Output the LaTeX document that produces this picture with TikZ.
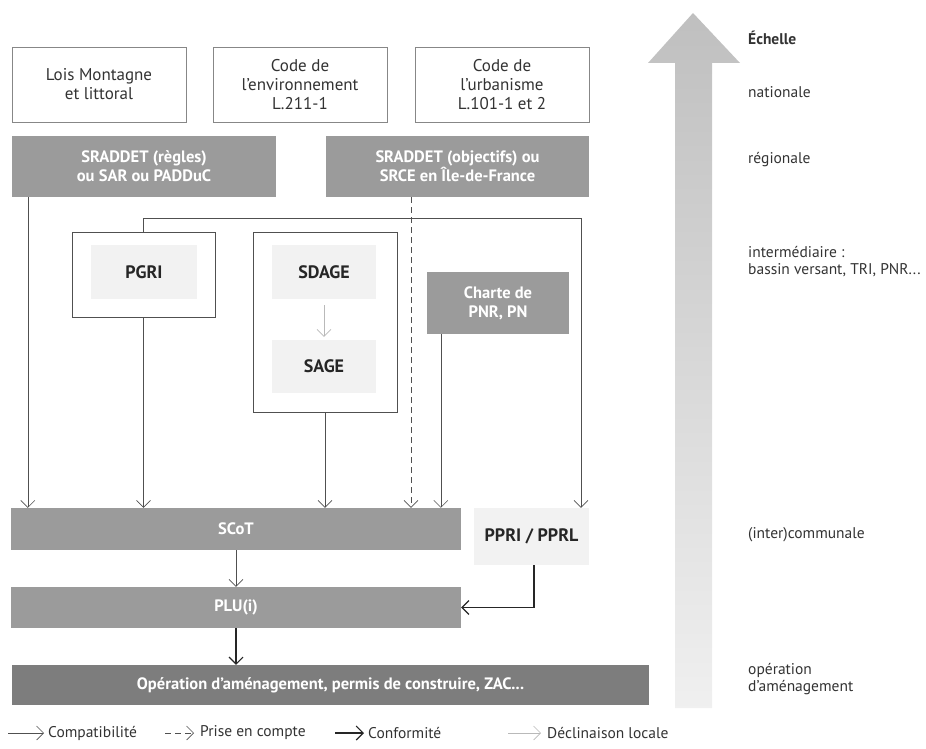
\documentclass[tikz,border=0pt]{standalone}
\usepackage{fontspec}
\setmainfont{PT Sans}
\usetikzlibrary{arrows.meta,positioning,calc}
\definecolor{trait}{RGB}{80,80,80}
\definecolor{grisboite}{RGB}{155,155,155}
\definecolor{grisop}{RGB}{125,125,125}
\definecolor{grisfond}{RGB}{242,242,242}
\definecolor{bordure}{RGB}{135,135,135}
\definecolor{decli}{RGB}{185,185,185}
\tikzset{>={Straight Barb[length=7pt,width=14pt]}}
\tikzset{
  loibox/.style={draw=bordure, fill=white, text=black!80, align=center, inner sep=0pt, font=\fontsize{17}{19}\selectfont},
  grisbox/.style={fill=grisboite, text=white, align=center, inner sep=0pt, font=\bfseries\fontsize{16.5}{19}\selectfont},
  cadre/.style={draw=trait, fill=white, inner sep=0pt},
  fondbox/.style={fill=grisfond, text=black!85, align=center, inner sep=0pt, font=\bfseries\fontsize{18}{20}\selectfont},
  echelle/.style={anchor=west, align=left, inner sep=0pt, text=black!80, font=\fontsize{15.5}{17}\selectfont},
  legende/.style={anchor=west, inner sep=0pt, text=black!80, font=\fontsize{15.5}{17}\selectfont},
  compat/.style={->, draw=trait, line width=0.6pt},
  prise/.style={->, draw=trait, line width=0.6pt, dash pattern=on 6pt off 4pt},
  conforme/.style={->, draw=black!85, line width=1.1pt},
  declin/.style={->, draw=decli, line width=0.6pt}
}

\begin{document}
\begin{tikzpicture}[x=1pt,y=-1pt]
    \useasboundingbox (0,0) rectangle (926,749);

    % echelle
    \shade[top color=gray!50, bottom color=gray!12] (675,708) -- (675,63) -- (648,63) -- (693,13) -- (740,63) -- (712,63) -- (712,708) -- cycle;
    \node[echelle, font=\bfseries\fontsize{15.5}{17}\selectfont] (ech) at (748,38) {Échelle};
    \node[echelle] (nat) at (748,92) {nationale};
    \node[echelle] (reg) at (748,160) {régionale};
    \node[echelle] (inter) at (748,262) {intermédiaire :\\bassin versant, TRI, PNR...};
    \node[echelle] (comm) at (748,535) {(inter)communale};
    \node[echelle] (amen) at (748,679) {opération\\d’aménagement};

    % textes nationaux
    \node[loibox, minimum width=174, minimum height=75] (lois) at (99,84.5) {Lois Montagne\\et littoral};
    \node[loibox, minimum width=174, minimum height=75] (env) at (300,84.5) {Code de\\l’environnement\\L.211-1};
    \node[loibox, minimum width=174, minimum height=75] (urba) at (502,84.5) {Code de\\l’urbanisme\\L.101-1 et 2};

    % regional
    \node[grisbox, minimum width=264, minimum height=61] (srr) at (144,166.5) {SRADDET (règles)\\ou SAR ou PADDuC};
    \node[grisbox, minimum width=263, minimum height=61] (sro) at (457.5,166.5) {SRADDET (objectifs) ou\\SRCE en Île-de-France};

    % intermediaire
    \node[cadre, minimum width=143, minimum height=85] (pgri) at (143.5,274.5) {};
    \node[fondbox, minimum width=106, minimum height=54] (pgrit) at (144,272) {PGRI};
    \node[cadre, minimum width=144, minimum height=180] (eau) at (325,322) {};
    \node[fondbox, minimum width=104, minimum height=54] (sdage) at (324,272) {SDAGE};
    \node[fondbox, minimum width=104, minimum height=53] (sage) at (324,366.5) {SAGE};
    \node[grisbox, minimum width=142, minimum height=62] (pnr) at (498,303) {Charte de\\PNR, PN};

    % communal
    \node[grisbox, minimum width=450, minimum height=42] (scot) at (236,529) {SCoT};
    \node[fondbox, minimum width=115, minimum height=57] (ppri) at (531.5,536.5) {PPRI / PPRL};
    \node[grisbox, minimum width=450, minimum height=41] (plu) at (236,607.5) {PLU(i)};
    \node[grisbox, fill=grisop, minimum width=637, minimum height=40] (oper) at (330.5,685) {Opération d’aménagement, permis de construire, ZAC...};

    % liens
    \draw[compat] ([xshift=16pt]srr.south west) -- ([xshift=16pt]srr.south west |- scot.north);
    \draw[compat] (pgri.south) -- (pgri.south |- scot.north);
    \draw[compat] (eau.south) -- (eau.south |- scot.north);
    \draw[prise] ([xshift=-46.5pt]sro.south) -- ([xshift=-46.5pt]sro.south |- scot.north);
    \draw[compat] ([xshift=14pt]pnr.south west) -- ([xshift=14pt]pnr.south west |- scot.north);
    \draw[compat] (pgri.north) -- ++(0,-14) -| ([xshift=49.5pt]ppri.north);
    \draw[declin] ([yshift=-6pt]sdage.south) -- ([yshift=3pt]sage.north);
    \draw[compat] (scot.south) -- (plu.north);
    \draw[conforme] ([xshift=2.5pt]ppri.south) |- (plu.east);
    \draw[conforme] (plu.south) -- (plu.south |- oper.north);

    % legende
    \node[legende] (lcomp) at (48,733) {Compatibilité};
    \node[legende] (lprise) at (200,733) {Prise en compte};
    \node[legende] (lconf) at (368,733) {Conformité};
    \node[legende] (ldecl) at (547,733) {Déclinaison locale};
    \draw[compat] ([xshift=-40pt]lcomp.west) -- ([xshift=-4pt]lcomp.west);
    \draw[prise] ([xshift=-35pt]lprise.west) -- ([xshift=-6pt]lprise.west);
    \draw[conforme] ([xshift=-33pt]lconf.west) -- ([xshift=-4pt]lconf.west);
    \draw[declin] ([xshift=-39pt]ldecl.west) -- ([xshift=-6pt]ldecl.west);
\end{tikzpicture}
\end{document}
